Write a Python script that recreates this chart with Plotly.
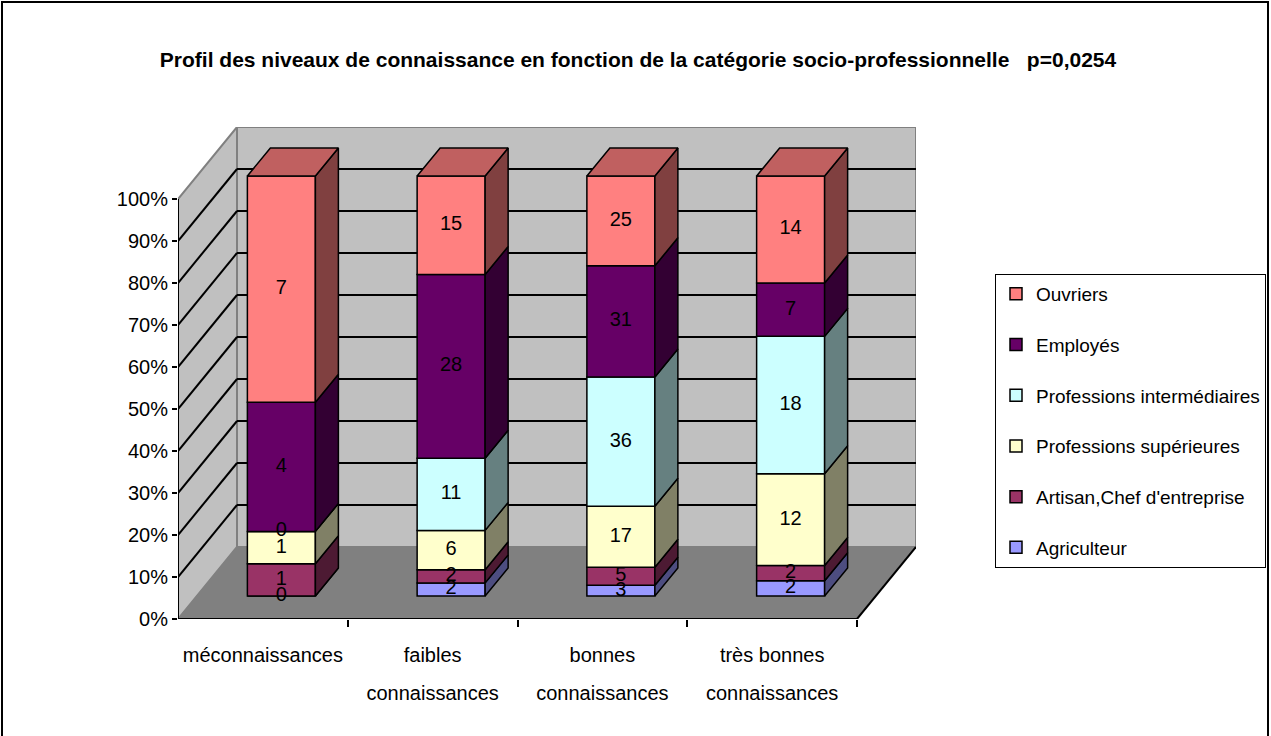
import plotly.graph_objects as go

# ---- data -----------------------------------------------------------------
categories = ["méconnaissances", "faibles connaissances",
              "bonnes connaissances", "très bonnes connaissances"]
category_lines = [["méconnaissances", ""], ["faibles", "connaissances"],
                  ["bonnes", "connaissances"], ["très bonnes", "connaissances"]]
series_names = ["Agriculteur", "Artisan,Chef d'entreprise", "Professions supérieures",
                "Professions intermédiaires", "Employés", "Ouvriers"]
agriculteur = [0, 2, 3, 2]
artisan = [1, 2, 5, 2]
prof_sup = [1, 6, 17, 12]
prof_int = [0, 11, 36, 18]
employes = [4, 28, 31, 7]
ouvriers = [7, 15, 25, 14]
y_ticks = [0, 10, 20, 30, 40, 50, 60, 70, 80, 90, 100]
y_tick_labels = [f"{t}%" for t in y_ticks]
title = ("Profil des niveaux de connaissance en fonction de la catégorie "
         "socio-professionnelle\u00a0\u00a0\u00a0p=0,0254")

series = [agriculteur, artisan, prof_sup, prof_int, employes, ouvriers]

# ---- styles ---------------------------------------------------------------
front_colors = ["#9999FF", "#993366", "#FFFFCC", "#CCFFFF", "#660066", "#FF8080"]
side_colors = ["#4D4D80", "#4D1A33", "#808066", "#668080", "#330033", "#804040"]
top_colors = ["#7373BF", "#73264D", "#BFBF99", "#99BFBF", "#4D004D", "#C06060"]
FONT = "Liberation Sans, Arial, sans-serif"
FS = 20

# ---- geometry (pixels -> data units) ---------------------------------------
W, H = 1271, 736
PLOT_L, PLOT_R, PLOT_T, PLOT_B = 178, 916, 127, 619
PX_X = 169.75   # pixels per category slot
PX_Y = 4.2      # pixels per percent

def ux(px):
    return px / PX_X

def uy(px):
    return px / PX_Y

WALL_DX, WALL_DY = ux(59), uy(72)          # full depth of the box
BAR_OFF_X, BAR_OFF_Y = ux(18.5), uy(23)    # front face of bars inside the box
BAR_DX, BAR_DY = ux(23), uy(28)            # bar depth
BAR_W = ux(68)

x_range = [-0.5, -0.5 + ux(PLOT_R - PLOT_L)]
y_range = [0, uy(PLOT_B - PLOT_T)]
n = len(categories)

def paper_x(px):
    return (px - PLOT_L) / (PLOT_R - PLOT_L)

def paper_y(py):
    return (PLOT_B - py) / (PLOT_B - PLOT_T)

def path(pts):
    return "M " + " L ".join(f"{x},{y}" for x, y in pts) + " Z"

# ---- percentages ----------------------------------------------------------
totals = [sum(s[i] for s in series) for i in range(n)]
pct = [[100.0 * s[i] / totals[i] for i in range(n)] for s in series]
bases = []
acc = [0.0] * n
for p in pct:
    bases.append(acc[:])
    acc = [a + v for a, v in zip(acc, p)]

shapes = []
# back wall, left wall, floor
x0, x1 = -0.5, n - 0.5
shapes.append(dict(type="path", layer="below", xref="x", yref="y",
                   path=path([(x0 + WALL_DX, WALL_DY), (x1 + WALL_DX, WALL_DY),
                              (x1 + WALL_DX, 100 + WALL_DY), (x0 + WALL_DX, 100 + WALL_DY)]),
                   fillcolor="#C0C0C0", line=dict(color="#808080", width=2)))
shapes.append(dict(type="path", layer="below", xref="x", yref="y",
                   path=path([(x0, 0), (x0, 100), (x0 + WALL_DX, 100 + WALL_DY),
                              (x0 + WALL_DX, WALL_DY)]),
                   fillcolor="#C0C0C0", line=dict(color="#808080", width=2)))
shapes.append(dict(type="path", layer="below", xref="x", yref="y",
                   path=path([(x0, 0), (x1, 0), (x1 + WALL_DX, WALL_DY), (x0 + WALL_DX, WALL_DY)]),
                   fillcolor="#808080", line=dict(color="#808080", width=1)))
# floor right edge
shapes.append(dict(type="line", layer="below", xref="x", yref="y",
                   x0=x1, y0=0, x1=x1 + WALL_DX, y1=WALL_DY,
                   line=dict(color="black", width=2)))
# gridlines on back and left walls
for t in y_ticks[1:-1]:
    shapes.append(dict(type="line", layer="below", xref="x", yref="y",
                       x0=x0 + WALL_DX, y0=t + WALL_DY, x1=x1 + WALL_DX, y1=t + WALL_DY,
                       line=dict(color="black", width=2)))
    shapes.append(dict(type="line", layer="below", xref="x", yref="y",
                       x0=x0, y0=t, x1=x0 + WALL_DX, y1=t + WALL_DY,
                       line=dict(color="black", width=2)))
# axis lines
shapes.append(dict(type="line", layer="below", xref="x", yref="y",
                   x0=x0, y0=0, x1=x0, y1=100, line=dict(color="black", width=2)))
shapes.append(dict(type="line", layer="below", xref="x", yref="y",
                   x0=x0, y0=0, x1=x1, y1=0, line=dict(color="black", width=2)))
# outer chart border
shapes.append(dict(type="rect", layer="above", xref="paper", yref="paper",
                   x0=paper_x(2), x1=paper_x(W - 3), y0=paper_y(H + 5), y1=paper_y(2),
                   line=dict(color="black", width=2), fillcolor="rgba(0,0,0,0)"))

fig = go.Figure()
centers = [i + BAR_OFF_X for i in range(n)]

for k, name in enumerate(series_names):
    # front faces
    fig.add_trace(go.Bar(
        x=centers, y=pct[k], base=[b + BAR_OFF_Y for b in bases[k]], width=BAR_W,
        name=name, legendgroup=name, legendrank=len(series_names) - k,
        marker=dict(color=front_colors[k], line=dict(color="black", width=1.5)),
        hoverinfo="skip"))
    # right side faces
    xs, ys = [], []
    for i in range(n):
        xr = centers[i] + BAR_W / 2
        yb = bases[k][i] + BAR_OFF_Y
        yt = yb + pct[k][i]
        xs += [xr, xr + BAR_DX, xr + BAR_DX, xr, xr, None]
        ys += [yb, yb + BAR_DY, yt + BAR_DY, yt, yb, None]
    fig.add_trace(go.Scatter(x=xs, y=ys, mode="lines", fill="toself",
                             fillcolor=side_colors[k], line=dict(color="black", width=1.5),
                             showlegend=False, hoverinfo="skip"))

# top faces on the highest segment
xs, ys = [], []
for i in range(n):
    xl = centers[i] - BAR_W / 2
    xr = centers[i] + BAR_W / 2
    yt = bases[-1][i] + pct[-1][i] + BAR_OFF_Y
    xs += [xl, xl + BAR_DX, xr + BAR_DX, xr, xl, None]
    ys += [yt, yt + BAR_DY, yt + BAR_DY, yt, yt, None]
fig.add_trace(go.Scatter(x=xs, y=ys, mode="lines", fill="toself",
                         fillcolor=top_colors[-1], line=dict(color="black", width=1.5),
                         showlegend=False, hoverinfo="skip"))

# value labels at the middle of each front face
lx, ly, lt = [], [], []
for k in range(len(series)):
    for i in range(n):
        lx.append(centers[i])
        ly.append(bases[k][i] + pct[k][i] / 2 + BAR_OFF_Y)
        lt.append(str(series[k][i]))
fig.add_trace(go.Scatter(x=lx, y=ly, text=lt, mode="text",
                         textfont=dict(family=FONT, size=FS, color="black"),
                         showlegend=False, hoverinfo="skip"))

# second line of the category labels lives on an overlaid axis
fig.add_trace(go.Scatter(x=[], y=[], xaxis="x2", showlegend=False, hoverinfo="skip"))

tickfont = dict(family=FONT, size=FS, color="black")
fig.update_layout(
    width=W, height=H,
    margin=dict(l=PLOT_L, r=W - PLOT_R, t=PLOT_T, b=H - PLOT_B, autoexpand=False),
    paper_bgcolor="white", plot_bgcolor="rgba(0,0,0,0)",
    barmode="overlay",
    shapes=shapes,
    font=dict(family=FONT, size=FS, color="black"),
    title=dict(text=title, xref="container", yref="container",
               x=638 / W, y=1 - 60 / H, xanchor="center", yanchor="middle",
               font=dict(family=FONT, size=21, color="black", weight="bold")),
    xaxis=dict(range=x_range, showgrid=False, zeroline=False, showline=False,
               tickmode="array", tickvals=list(range(n)),
               ticktext=[c[0] for c in category_lines], tickangle=0,
               ticks="", ticklabelstandoff=22, tickfont=tickfont,
               minor=dict(tickmode="array", tickvals=[i + 0.5 for i in range(n)],
                          ticks="outside", ticklen=7, tickwidth=2, tickcolor="black",
                          showgrid=False)),
    xaxis2=dict(range=x_range, overlaying="x", anchor="y", side="bottom",
                showgrid=False, zeroline=False, showline=False,
                tickmode="array", tickvals=list(range(n)),
                ticktext=[c[1] for c in category_lines], tickangle=0,
                ticks="", ticklabelstandoff=60, tickfont=tickfont),
    yaxis=dict(range=y_range, showgrid=False, zeroline=False, showline=False,
               tickmode="array", tickvals=y_ticks, ticktext=y_tick_labels,
               ticks="outside", ticklen=5, tickwidth=2, tickcolor="black",
               tickfont=tickfont),
    legend=dict(x=paper_x(995), y=paper_y(274), xanchor="left", yanchor="top",
                traceorder="grouped", tracegroupgap=23,
                bordercolor="black", borderwidth=1, bgcolor="white",
                font=dict(family=FONT, size=19, color="black"),
                itemwidth=30),
)

fig.write_html("out.html")
